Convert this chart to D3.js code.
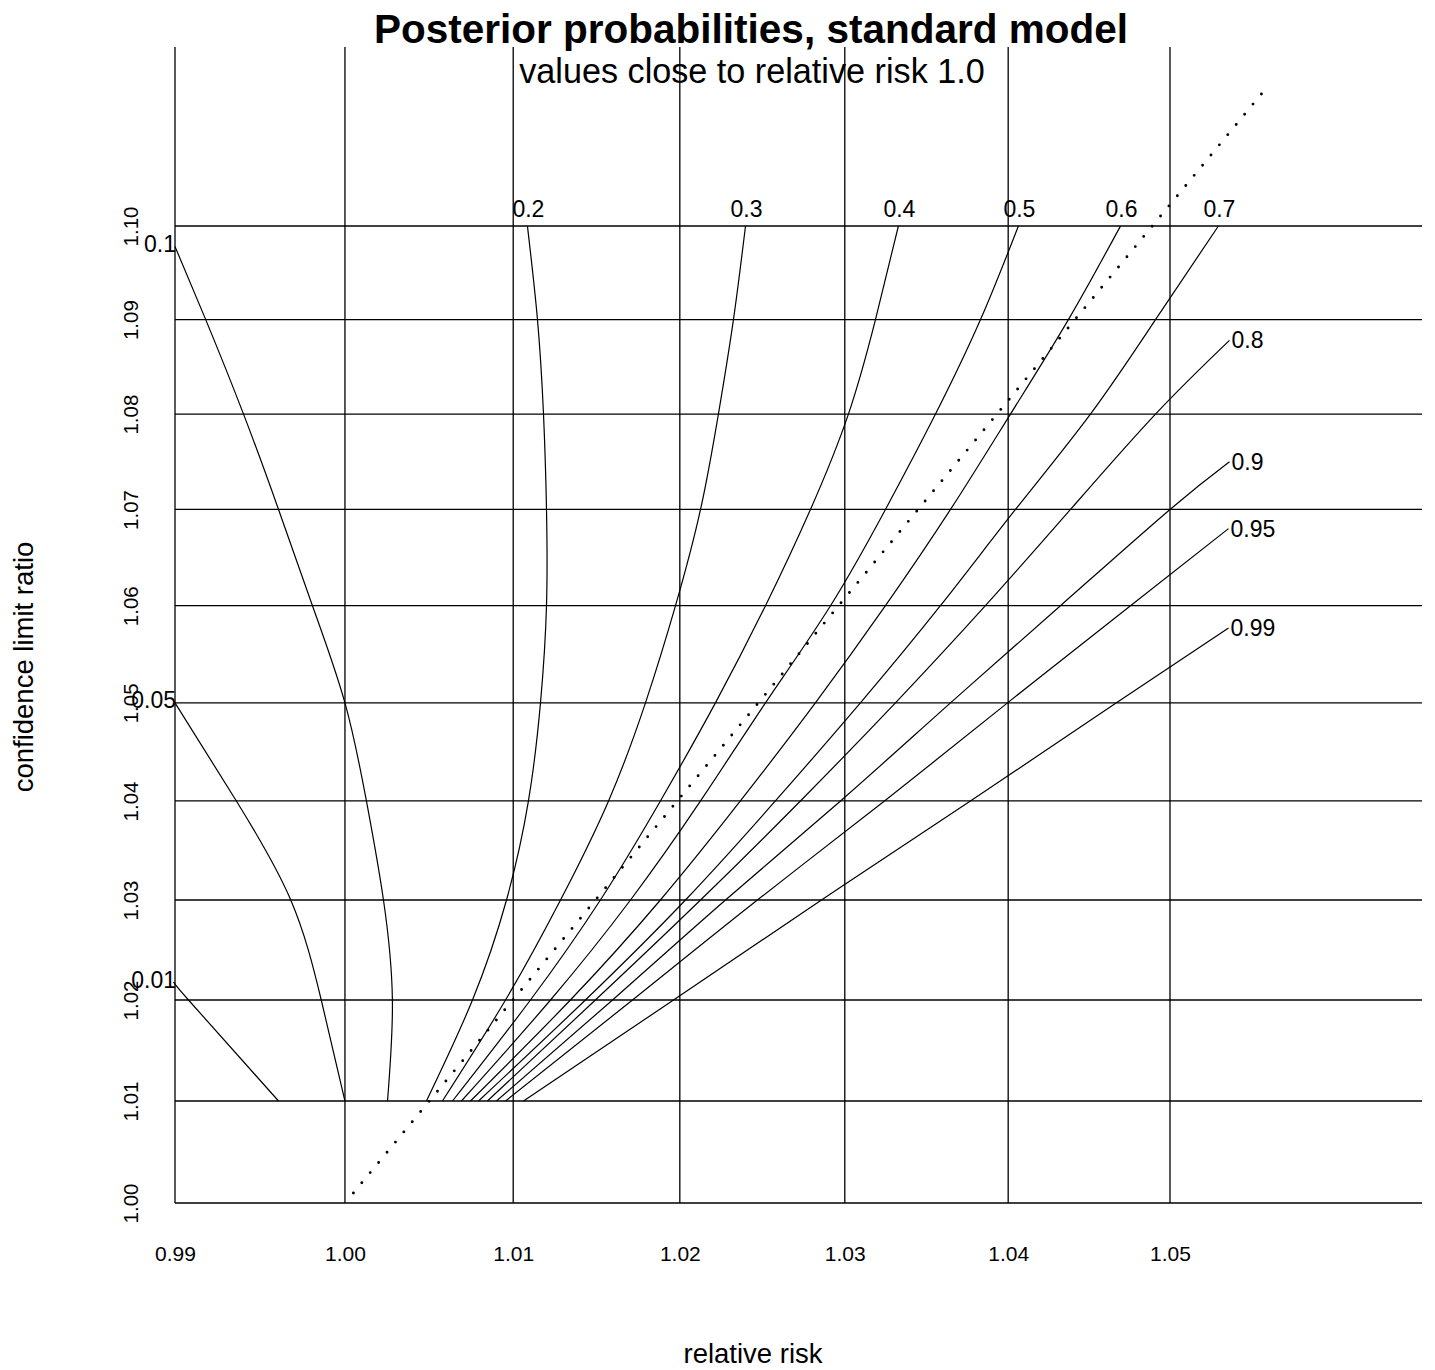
<!DOCTYPE html>
<html><head><meta charset="utf-8">
<script src="https://cdn.jsdelivr.net/npm/d3@7"></script>
<style>
body{margin:0;background:#fff;}
text{font-family:"Liberation Sans",Arial,Helvetica,sans-serif;fill:#000;}
</style></head>
<body>
<svg id="chart" width="1435" height="1370"></svg>
<script>
// ---------- data ----------
const titleText = "Posterior probabilities, standard model";
const subtitleText = "values close to relative risk 1.0";
const xTitle = "relative risk";
const yTitle = "confidence limit ratio";
const xTicks = [0.99, 1.00, 1.01, 1.02, 1.03, 1.04, 1.05];
const xTickLabels = ["0.99", "1.00", "1.01", "1.02", "1.03", "1.04", "1.05"];
const yTicks = [1.00, 1.01, 1.02, 1.03, 1.04, 1.05, 1.06, 1.07, 1.08, 1.09, 1.10];
const yTickLabels = ["1.00", "1.01", "1.02", "1.03", "1.04", "1.05", "1.06", "1.07", "1.08", "1.09", "1.10"];
const gridCLR = [1.01, 1.02, 1.03, 1.04, 1.05, 1.06, 1.07, 1.08, 1.09, 1.10];

// contour levels and their traced paths: relative risk at each confidence limit ratio
const levels = ["0.01", "0.05", "0.1", "0.2", "0.3", "0.4", "0.5", "0.6", "0.7", "0.8", "0.9", "0.95", "0.99"];
const rr_001 = [0.99608, 0.99079, 0.99];
const clr_001 = [1.01, 1.02, 1.0217];
const rr_005 = [1.0000, 0.99860, 0.99680, 0.99360, 0.99];
const clr_005 = [1.01, 1.02, 1.03, 1.04, 1.05];
const rr_01 = [1.00252, 1.00281, 1.00228, 1.00127, 1.0000, 0.99808, 0.99608, 0.99402, 0.99180, 0.99];
const clr_01 = [1.01, 1.02, 1.03, 1.04, 1.05, 1.06, 1.07, 1.08, 1.09, 1.0978];
const rr_02 = [1.00483, 1.00757, 1.00960, 1.01091, 1.01163, 1.01199, 1.01199, 1.01181, 1.01145, 1.01085];
const rr_03 = [1.00578, 1.00954, 1.01283, 1.01571, 1.01793, 1.01974, 1.02125, 1.02233, 1.02324, 1.02397];
const rr_04 = [1.00638, 1.01103, 1.01522, 1.01883, 1.02215, 1.02518, 1.02791, 1.03022, 1.03187, 1.03327];
const rr_05 = [1.00691, 1.01223, 1.01703, 1.02125, 1.02518, 1.02913, 1.03248, 1.03554, 1.03830, 1.04063];
const rr_06 = [1.00745, 1.01342, 1.01883, 1.02366, 1.02821, 1.03248, 1.03646, 1.04014, 1.04371, 1.04693];
const rr_07 = [1.00793, 1.01432, 1.02034, 1.02578, 1.03095, 1.03584, 1.04045, 1.04507, 1.04910, 1.05301];
const rr_08 = [1.00846, 1.01492, 1.02125, 1.02730, 1.03309, 1.03860, 1.04384, 1.04910, 1.05370];
const clr_08 = [1.01, 1.02, 1.03, 1.04, 1.05, 1.06, 1.07, 1.08, 1.0878];
const rr_09 = [1.00900, 1.01595, 1.02276, 1.02974, 1.03646, 1.04322, 1.0500, 1.05370];
const clr_09 = [1.01, 1.02, 1.03, 1.04, 1.05, 1.06, 1.07, 1.0750];
const rr_095 = [1.00954, 1.01715, 1.02469, 1.03242, 1.03996, 1.04755, 1.05364];
const clr_095 = [1.01, 1.02, 1.03, 1.04, 1.05, 1.06, 1.0680];
const rr_099 = [1.01061, 1.01962, 1.02858, 1.03768, 1.04668, 1.05364];
const clr_099 = [1.01, 1.02, 1.03, 1.04, 1.05, 1.0577];

const rrSeries = [rr_001, rr_005, rr_01, rr_02, rr_03, rr_04, rr_05, rr_06, rr_07, rr_08, rr_09, rr_095, rr_099];
const clrSeries = [clr_001, clr_005, clr_01, gridCLR, gridCLR, gridCLR, gridCLR, gridCLR, gridCLR, clr_08, clr_09, clr_095, clr_099];

// dotted reference line (lower confidence limit = 1)
const refRR = [1.0005, 1.0559];
const refCLR = [1.00098, 1.1147];

// ---------- drawing ----------
const svg = d3.select("#chart");
const x = d3.scaleLog().domain([0.99, 1.05]).range([175, 1170]);
const y = d3.scaleLog().domain([1.00, 1.10]).range([1203, 226]);
const plotTop = 47, plotRight = 1422;

// grid lines
svg.append("g").selectAll("line").data(xTicks).join("line")
  .attr("x1", d => x(d)).attr("x2", d => x(d))
  .attr("y1", plotTop).attr("y2", y(1.00))
  .attr("stroke", "#000").attr("stroke-width", 1.3);
svg.append("g").selectAll("line").data(yTicks).join("line")
  .attr("x1", x(0.99)).attr("x2", plotRight)
  .attr("y1", d => y(d)).attr("y2", d => y(d))
  .attr("stroke", "#000").attr("stroke-width", 1.3);

// axes labels (through d3 axes)
const gx = svg.append("g").attr("transform", `translate(0,${y(1.00)})`)
  .call(d3.axisBottom(x).tickValues(xTicks).tickFormat((d, i) => xTickLabels[i]).tickSize(0));
gx.select(".domain").remove();
gx.selectAll("text").attr("y", 58).attr("dy", 0)
  .style("font-size", "21px").style("font-family", '"Liberation Sans",Arial,sans-serif');

const gy = svg.append("g").attr("transform", `translate(${x(0.99)},0)`)
  .call(d3.axisLeft(y).tickValues(yTicks).tickFormat((d, i) => yTickLabels[i]).tickSize(0));
gy.select(".domain").remove();
gy.selectAll("text").attr("x", 0).attr("dy", 0).attr("text-anchor", "middle")
  .attr("transform", "translate(-37,0) rotate(-90)")
  .style("font-size", "20.5px").style("font-family", '"Liberation Sans",Arial,sans-serif');

// dotted line
const line = d3.line().x(d => x(d[0])).y(d => y(d[1]));
svg.append("path")
  .datum(refRR.map((r, i) => [r, refCLR[i]]))
  .attr("d", line).attr("fill", "none").attr("stroke", "#000")
  .attr("stroke-width", 2.9).attr("stroke-linecap", "round")
  .attr("stroke-dasharray", "0 13.2");

// contours
const cline = d3.line().x(d => x(d[0])).y(d => y(d[1])).curve(d3.curveNatural);
levels.forEach((lab, k) => {
  const pts = rrSeries[k].map((r, i) => [r, clrSeries[k][i]]);
  svg.append("path").datum(pts).attr("d", cline)
    .attr("fill", "none").attr("stroke", "#000").attr("stroke-width", 1.2);
  const end = pts[pts.length - 1];
  const ex = x(end[0]), ey = y(end[1]);
  const t = svg.append("text").text(lab).style("font-size", "23px");
  if (end[0] <= 0.9901) {
    t.attr("x", ex + 1).attr("y", ey + 5).attr("text-anchor", "end");
  } else if (end[1] >= 1.0999) {
    t.attr("x", ex + 1).attr("y", ey - 9).attr("text-anchor", "middle");
  } else {
    t.attr("x", ex + 2).attr("y", ey + 8).attr("text-anchor", "start");
  }
});

// titles
svg.append("text").attr("x", 751).attr("y", 43).attr("text-anchor", "middle")
  .style("font-size", "40.5px").style("font-weight", "bold").text(titleText);
svg.append("text").attr("x", 752).attr("y", 83).attr("text-anchor", "middle")
  .style("font-size", "34.2px").text(subtitleText);
svg.append("text").attr("x", 753).attr("y", 1363).attr("text-anchor", "middle")
  .style("font-size", "27.5px").text(xTitle);
svg.append("text").attr("transform", "translate(33,667) rotate(-90)").attr("text-anchor", "middle")
  .style("font-size", "27.5px").text(yTitle);
</script>
</body></html>
